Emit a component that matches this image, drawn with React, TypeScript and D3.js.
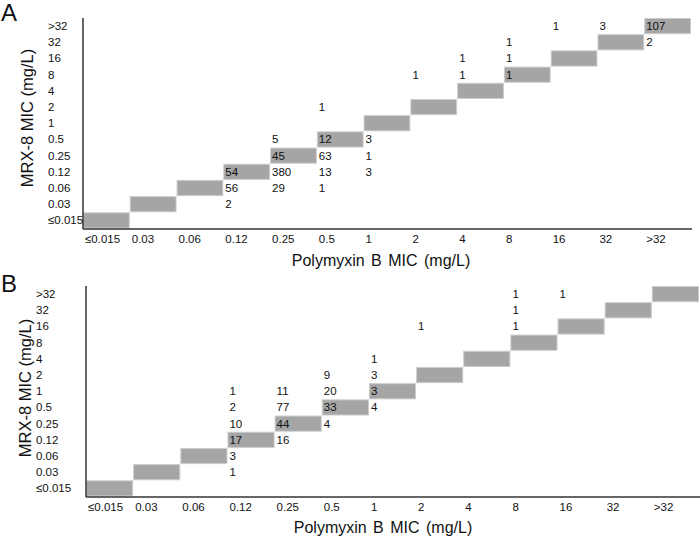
import React from "react";
import * as d3 from "d3";

const micCategories = ["≤0.015", "0.03", "0.06", "0.12", "0.25", "0.5", "1", "2", "4", "8", "16", "32", ">32"];

// [Polymyxin B MIC, MRX-8 MIC, count]
const panelACounts: [string, string, number][] = [
  ["0.12", "0.12", 54], ["0.12", "0.06", 56], ["0.12", "0.03", 2],
  ["0.25", "0.5", 5], ["0.25", "0.25", 45], ["0.25", "0.12", 380], ["0.25", "0.06", 29],
  ["0.5", "2", 1], ["0.5", "0.5", 12], ["0.5", "0.25", 63], ["0.5", "0.12", 13], ["0.5", "0.06", 1],
  ["1", "0.5", 3], ["1", "0.25", 1], ["1", "0.12", 3],
  ["2", "8", 1],
  ["4", "16", 1], ["4", "8", 1],
  ["8", "32", 1], ["8", "16", 1], ["8", "8", 1],
  ["16", ">32", 1],
  ["32", ">32", 3],
  [">32", ">32", 107], [">32", "32", 2],
];

const panelBCounts: [string, string, number][] = [
  ["0.12", "1", 1], ["0.12", "0.5", 2], ["0.12", "0.25", 10], ["0.12", "0.12", 17], ["0.12", "0.06", 3], ["0.12", "0.03", 1],
  ["0.25", "1", 11], ["0.25", "0.5", 77], ["0.25", "0.25", 44], ["0.25", "0.12", 16],
  ["0.5", "2", 9], ["0.5", "1", 20], ["0.5", "0.5", 33], ["0.5", "0.25", 4],
  ["1", "4", 1], ["1", "2", 3], ["1", "1", 3], ["1", "0.5", 4],
  ["2", "16", 1],
  ["8", ">32", 1], ["8", "32", 1], ["8", "16", 1],
  ["16", ">32", 1],
];

const xTitle = "Polymyxin B MIC (mg/L)";
const yTitle = "MRX-8 MIC (mg/L)";

const FONT = "'Liberation Sans', Arial, sans-serif";

type PanelProps = {
  letter: string;
  letterY: number;
  counts: [string, string, number][];
  x0: number; x1: number; yBottom: number; yTop: number;
  yTickX: number; yTitleX: number; yTitleY: number; xTitleY: number; xTitleX: number;
};

function Panel(p: PanelProps) {
  const x = d3.scaleBand<string>().domain(micCategories).range([p.x0, p.x1]).padding(0);
  const y = d3.scaleBand<string>().domain(micCategories).range([p.yBottom, p.yTop]).padding(0);
  const bw = x.bandwidth();
  const bh = y.bandwidth();
  return (
    <g fontFamily={FONT} fill="#111">
      <text x={1} y={p.letterY} fontSize={24}>{p.letter}</text>
      {micCategories.map((c) => (
        <rect key={"box" + c} x={x(c)! + 0.5} y={y(c)! + 0.5} width={bw - 1} height={bh - 1}
          fill="#a5a5a5" stroke="#cdcdcd" strokeWidth={1} />
      ))}
      <line x1={p.x0} x2={p.x0} y1={p.yTop} y2={p.yBottom + 0.5} stroke="#333" strokeWidth={1.5} />
      <line x1={p.x0} x2={p.x1 + 1} y1={p.yBottom + 0.5} y2={p.yBottom + 0.5} stroke="#333" strokeWidth={1.5} />
      {micCategories.map((c) => (
        <text key={"yt" + c} x={p.yTickX} y={y(c)! + bh / 2 + 4} fontSize={11.5}>{c}</text>
      ))}
      {micCategories.map((c) => (
        <text key={"xt" + c} x={x(c)! + 2} y={p.yBottom + 14} fontSize={11.5}>{c}</text>
      ))}
      {p.counts.map(([cx, cy, v], i) => (
        <text key={"n" + i} x={x(cx)! + 2} y={y(cy)! + bh / 2 + 4} fontSize={11.5}>{v}</text>
      ))}
      <text x={p.xTitleX} y={p.xTitleY} fontSize={16} textAnchor="middle" wordSpacing={2}>{xTitle}</text>
      <text transform={`translate(${p.yTitleX},${p.yTitleY}) rotate(-90)`} fontSize={16.5}
        textAnchor="middle">{yTitle}</text>
    </g>
  );
}

export default function App() {
  return (
    <svg width={700} height={537} style={{ position: "absolute", left: 0, top: 0, background: "#fff" }}>
      <rect width={700} height={537} fill="#fff" />
      <Panel letter="A" letterY={21} counts={panelACounts} x0={83} x1={691} yBottom={228.5} yTop={18}
        yTickX={48} yTitleX={33} yTitleY={118} xTitleY={266} xTitleX={381} />
      <Panel letter="B" letterY={292} counts={panelBCounts} x0={86} x1={699} yBottom={496.5} yTop={286}
        yTickX={36} yTitleX={31} yTitleY={388} xTitleY={533} xTitleX={383} />
    </svg>
  );
}
